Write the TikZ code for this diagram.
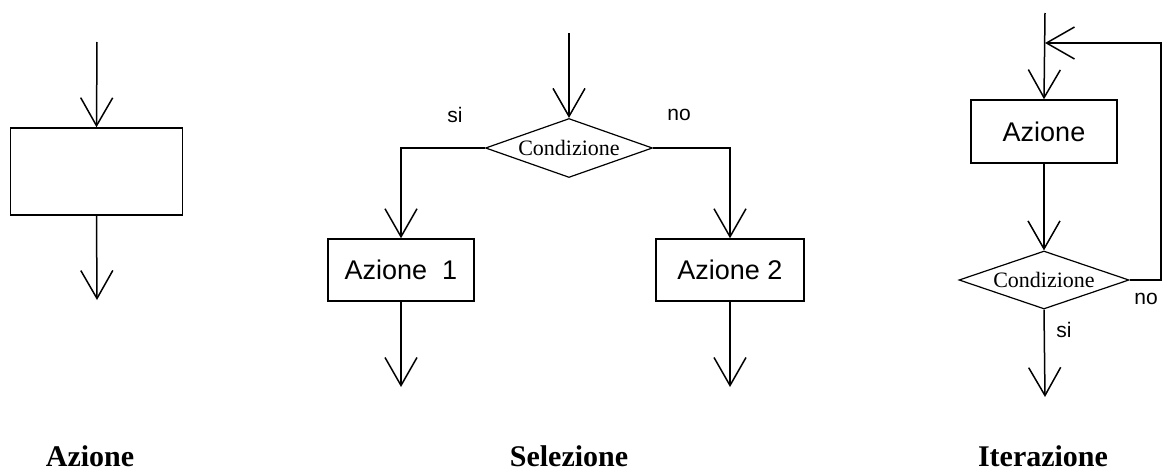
\documentclass[tikz,border=0pt]{standalone}
\usepackage{fontspec}
\setmainfont{Liberation Serif}
\setsansfont{Liberation Sans}
\usetikzlibrary{shapes.geometric,arrows.meta}
\begin{document}
\begin{tikzpicture}[x=1pt,y=-1pt,
  flow/.style={line width=1.5pt,-{Straight Barb[length=28pt,width=32pt,line width=1.5pt]}},
  actbox/.style={draw,line width=1.5pt,rectangle,inner sep=0pt,font=\sffamily\fontsize{27}{30}\selectfont},
  cond/.style={draw,line width=1.2pt,diamond,aspect=2.8,inner sep=0pt,font=\rmfamily\fontsize{22}{25}\selectfont},
  lbl/.style={font=\sffamily\fontsize{21}{24}\selectfont,inner sep=0pt},
  title/.style={font=\rmfamily\bfseries\fontsize{30}{34}\selectfont,anchor=base,inner sep=0pt}]
\useasboundingbox (0,0) rectangle (1163,471);
% Azione
\coordinate (a_in) at (97,42);
\node[actbox,minimum width=172pt,minimum height=87pt] (a_box) at (96.5,171.5) {};
\coordinate (a_out) at (97,300);
\draw[flow] (a_in) -- (a_box.north);
\draw[flow] (a_box.south) -- (a_out);
\node[title] (a_t) at (90,466) {Azione};
% Selezione
\coordinate (s_in) at (569,33);
\node[cond,minimum width=167pt,minimum height=59pt] (s_c) at (569,148) {Condizione};
\node[actbox,minimum width=146pt,minimum height=62pt] (s_b1) at (401,270) {Azione~~1};
\node[actbox,minimum width=148pt,minimum height=62pt] (s_b2) at (730,270) {Azione 2};
\coordinate (s_o1) at (401,387);
\coordinate (s_o2) at (730,387);
\draw[flow] (s_in) -- (s_c.north);
\draw[flow] (s_c.west) -| (s_b1.north);
\draw[flow] (s_c.east) -| (s_b2.north);
\draw[flow] (s_b1.south) -- (s_o1);
\draw[flow] (s_b2.south) -- (s_o2);
\node[lbl] (s_si) at (455,115) {si};
\node[lbl] (s_no) at (679,115) {no};
\node[title] (s_t) at (569,466) {Selezione};
% Iterazione
\coordinate (i_in) at (1045,13);
\coordinate (i_join) at (1045,43);
\node[actbox,minimum width=146pt,minimum height=63pt] (i_box) at (1044,131.5) {Azione};
\node[cond,minimum width=170pt,minimum height=58pt] (i_c) at (1044,280) {Condizione};
\coordinate (i_r) at (1161,280);
\coordinate (i_out) at (1045,397);
\draw[flow] (i_in) -- (i_box.north);
\draw[flow] (i_box.south) -- (i_c.north);
\draw[flow] (i_c.east) -- (i_r) |- (i_join);
\draw[flow] (i_c.south) -- (i_out);
\node[lbl] (i_no) at (1146,299) {no};
\node[lbl] (i_si) at (1064,330) {si};
\node[title] (i_t) at (1043,466) {Iterazione};
\end{tikzpicture}
\end{document}
